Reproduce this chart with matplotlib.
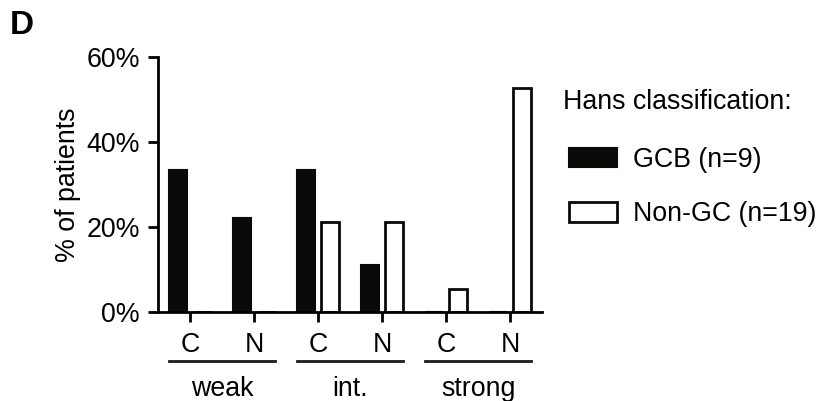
import matplotlib
matplotlib.use("Agg")
import matplotlib.pyplot as plt
import numpy as np
from matplotlib.ticker import FuncFormatter
import matplotlib.transforms as mtransforms

plt.rcParams['font.family'] = ['Liberation Sans', 'DejaVu Sans']

tick_labels = ["C", "N", "C", "N", "C", "N"]
groups = ["weak", "int.", "strong"]
gcb = [33.3, 22.2, 33.3, 11.1, 0.0, 0.0]
nongc = [0.0, 0.0, 21.1, 21.1, 5.3, 52.6]
series_labels = ["GCB (n=9)", "Non-GC (n=19)"]
legend_title = "Hans classification:"

FS = 19.3
fig = plt.figure(figsize=(8.2, 4.01), dpi=100)
ax = fig.add_axes([158/820, 1-312/401, 384/820, 255/401])

x = np.arange(len(tick_labels))
w = 0.28
off = 0.19
b1 = ax.bar(x - off, gcb, w, color="#0a0a08", edgecolor="#0a0a08", linewidth=1.5,
            label=series_labels[0])
b2 = ax.bar(x + off, nongc, w, color="white", edgecolor="#0a0a08", linewidth=2.0,
            label=series_labels[1])

ax.set_xlim(-0.5, 5.5)
ax.set_ylim(0, 60)
ax.set_yticks([0, 20, 40, 60])
ax.yaxis.set_major_formatter(FuncFormatter(lambda v, p: f"{int(v)}%"))
ax.set_xticks(x)
ax.set_xticklabels(tick_labels)
for s in ["top", "right"]:
    ax.spines[s].set_visible(False)
for s in ["left", "bottom"]:
    ax.spines[s].set_linewidth(2)
ax.tick_params(axis="both", length=7.2, width=2, labelsize=FS, pad=6)
ax.tick_params(axis="x", pad=7)
ax.set_ylabel("% of patients", fontsize=FS, labelpad=4)

trans = mtransforms.blended_transform_factory(ax.transData, ax.transAxes)
for i, g in enumerate(groups):
    c = 2*i + 0.5
    ax.plot([c - 0.83, c + 0.83], [-0.192, -0.192], color="#1a1a1a", lw=2,
            transform=trans, clip_on=False)
    ax.text(c, -0.30, g, transform=trans, ha="center", va="center", fontsize=FS)

fig.text(563/820, 1-102/401, legend_title, fontsize=FS, ha="left", va="center")
leg = ax.legend(handles=[b1, b2], loc="upper left",
                bbox_to_anchor=(569/820, 1-147/401), bbox_transform=fig.transFigure,
                frameon=False, fontsize=FS, alignment="left",
                handlelength=1.8, handleheight=0.75, labelspacing=1.05,
                handletextpad=0.6, borderaxespad=0, borderpad=0)

fig.text(10/820, 1-26/401, "D", fontsize=24, fontweight="bold", va="center", ha="left")

fig.savefig("out.png", dpi=100)
